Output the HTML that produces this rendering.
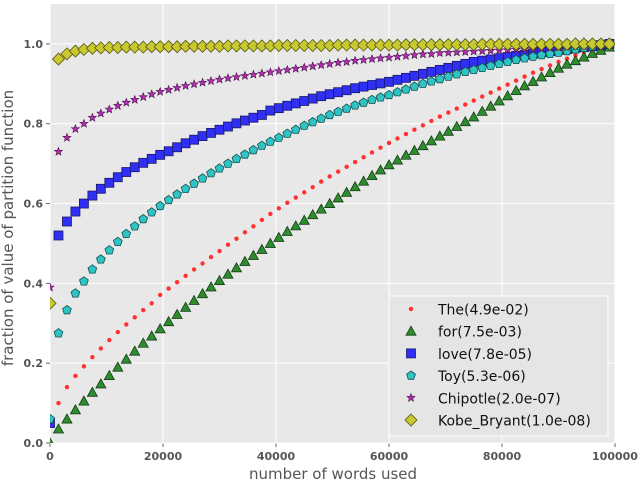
<!DOCTYPE html>
<html><head><meta charset="utf-8"><style>
html,body{margin:0;padding:0;background:#fff;}
svg{display:block;font-family:"DejaVu Sans","Liberation Sans",sans-serif;}
</style></head><body>
<svg id="chart" width="640" height="483" viewBox="0 0 640 483"></svg>
<script>
const xValues = [];
for (let i = 0; i < 67; i++) xValues.push(i * 1500);
const theValues = [0,.10,.14,.168,.192,.215,.237,.258,.278,.297,.315,.333,.35,.371,.387,.403,.419,.435,.45,.466,.481,.497,.512,.528,.543,.559,.574,.588,.602,.615,.628,.641,.655,.668,.68,.692,.704,.716,.728,.74,.752,.763,.774,.785,.796,.807,.818,.828,.838,.848,.858,.868,.878,.888,.898,.908,.918,.928,.937,.946,.955,.963,.971,.979,.986,.993,1.0];
const forValues = [0,.035,.06,.083,.105,.127,.148,.169,.19,.21,.23,.25,.268,.286,.304,.322,.34,.357,.374,.391,.407,.423,.439,.455,.47,.485,.50,.515,.53,.544,.558,.572,.586,.60,.614,.628,.642,.656,.67,.684,.697,.709,.721,.733,.745,.757,.769,.781,.793,.805,.817,.831,.844,.857,.87,.883,.895,.906,.917,.928,.939,.949,.958,.967,.976,.984,.992];
const loveValues = [.05,.52,.555,.58,.60,.62,.637,.652,.666,.679,.691,.702,.712,.722,.731,.741,.751,.76,.769,.777,.785,.793,.801,.808,.815,.822,.833,.839,.845,.851,.857,.863,.869,.874,.879,.884,.889,.893,.897,.901,.905,.91,.915,.92,.925,.93,.935,.94,.945,.95,.955,.958,.961,.964,.967,.97,.973,.976,.979,.982,.985,.987,.99,.992,.994,.997,1.0];
const toyValues = [.06,.275,.333,.375,.405,.435,.46,.483,.504,.524,.543,.561,.578,.594,.609,.623,.637,.65,.663,.676,.688,.70,.712,.723,.734,.745,.755,.765,.775,.785,.795,.804,.813,.822,.83,.838,.846,.853,.86,.866,.872,.879,.886,.893,.90,.906,.912,.918,.924,.93,.935,.94,.945,.95,.955,.96,.964,.968,.972,.975,.978,.982,.986,.99,.993,.997,1.0];
const chipotleValues = [.39,.73,.765,.787,.80,.815,.826,.836,.845,.853,.86,.867,.874,.88,.885,.89,.895,.899,.903,.907,.911,.914,.917,.92,.923,.926,.929,.932,.935,.938,.941,.944,.947,.95,.953,.955,.958,.96,.962,.964,.966,.968,.97,.972,.974,.975,.977,.978,.979,.98,.981,.982,.983,.984,.985,.986,.987,.988,.989,.99,.991,.992,.994,.995,.997,.998,1.0];
const kobeValues = [.35,.962,.975,.982,.986,.989,.99,.991,.991,.992,.992,.992,.993,.993,.993,.993,.994,.994,.994,.994,.994,.995,.995,.995,.995,.995,.995,.996,.996,.996,.996,.996,.996,.996,.997,.997,.997,.997,.997,.997,.997,.997,.998,.998,.998,.998,.998,.998,.998,.998,.998,.999,.999,.999,.999,.999,.999,.999,.999,.999,.999,.999,1.0,1.0,1.0,1.0,1.0];
const xTicks = [0,20000,40000,60000,80000,100000];
const yTicks = [0.0,0.2,0.4,0.6,0.8,1.0];
const legendLabels = ["The(4.9e-02)","for(7.5e-03)","love(7.8e-05)","Toy(5.3e-06)","Chipotle(2.0e-07)","Kobe_Bryant(1.0e-08)"];

const L=50,R=615,T=4,B=443;
const xs = v => L + v/100000*(R-L);
const ys = v => B - v/1.1*(B-T);
const NS="http://www.w3.org/2000/svg";
const svg=document.getElementById('chart');
function mk(tag,attrs,parent){const e=document.createElementNS(NS,tag);for(const k in attrs)e.setAttribute(k,attrs[k]);(parent||svg).appendChild(e);return e;}

const bg=mk('rect',{x:L,y:T,width:R-L,height:B-T,fill:'#e8e8e8'});


xTicks.forEach(t=>{
  const g=mk('line',{x1:xs(t),x2:xs(t),y1:T,y2:B,stroke:'#fff','stroke-width':1});
  
  
  mk('line',{x1:xs(t),x2:xs(t),y1:B,y2:B+4,stroke:'#666'});
  const tx=mk('text',{x:xs(t),y:B+17,'text-anchor':'middle','font-size':11,'font-weight':'bold',fill:'#555'});
  tx.textContent=t;
  
  
});
yTicks.forEach(t=>{
  const g=mk('line',{x1:L,x2:R,y1:ys(t),y2:ys(t),stroke:'#fff','stroke-width':1});
  
  
  mk('line',{x1:L-4,x2:L,y1:ys(t),y2:ys(t),stroke:'#666'});
  const tx=mk('text',{x:L-7,y:ys(t)+4,'text-anchor':'end','font-size':11,'font-weight':'bold',fill:'#555'});
  tx.textContent=t.toFixed(1);
  
  
});

function marker(kind,cx,cy,parent){
  let e;
  if(kind==='dot') e=mk('circle',{cx,cy,r:2.2,fill:'#ff3030'},parent);
  else if(kind==='tri') e=mk('polygon',{points:`${cx},${cy-5} ${cx-5},${cy+4} ${cx+5},${cy+4}`,fill:'#2e8b2e',stroke:'#143d14','stroke-width':0.8},parent);
  else if(kind==='sq') e=mk('rect',{x:cx-4.5,y:cy-4.5,width:9,height:9,fill:'#2f2ff5',stroke:'#1a1a66','stroke-width':0.8},parent);
  else if(kind==='pent'){let p=[];for(let k=0;k<5;k++){const a=-Math.PI/2+k*2*Math.PI/5;p.push((cx+4.6*Math.cos(a)).toFixed(1)+','+(cy+4.6*Math.sin(a)).toFixed(1));}
    e=mk('polygon',{points:p.join(' '),fill:'#2ec4c4',stroke:'#145050','stroke-width':0.8},parent);}
  else if(kind==='star'){let p=[];for(let k=0;k<10;k++){const a=-Math.PI/2+k*Math.PI/5,r=k%2?1.8:4.2;p.push((cx+r*Math.cos(a)).toFixed(1)+','+(cy+r*Math.sin(a)).toFixed(1));}
    e=mk('polygon',{points:p.join(' '),fill:'#b030b0',stroke:'#4a104a','stroke-width':0.6},parent);}
  else e=mk('polygon',{points:`${cx},${cy-6} ${cx+6},${cy} ${cx},${cy+6} ${cx-6},${cy}`,fill:'#c8c830',stroke:'#555510','stroke-width':0.8},parent);
  return e;
}
const series=[['the',theValues,'dot'],['for',forValues,'tri'],['love',loveValues,'sq'],['toy',toyValues,'pent'],['chipotle',chipotleValues,'star'],['kobe-bryant',kobeValues,'dia']];
const clip=mk('clipPath',{id:'pc'});mk('rect',{x:L,y:T,width:R-L,height:B-T},clip);
series.forEach(([name,vals,kind])=>{
  const g=mk('g',{'clip-path':'url(#pc)'});
  
  
  vals.forEach((v,i)=>{
    const m=marker(kind,xs(xValues[i]),ys(v),g);
    
    
  });
});

const lg=mk('g',{});


mk('rect',{x:389,y:296,width:219,height:140,fill:'#e5e5e5',stroke:'#fff','stroke-width':1},lg);
series.forEach(([name,vals,kind],i)=>{
  const y=309+i*22.2;
  const m=marker(kind,411,y,lg);
  
  
  const t=mk('text',{x:438,y:y+5.5,'font-size':14,fill:'#111'},lg);
  t.textContent=legendLabels[i];
  
  
});

const xt=mk('text',{x:333,y:479,'text-anchor':'middle','font-size':15,fill:'#555'});
xt.textContent='number of words used';


const yt=mk('text',{x:0,y:0,'text-anchor':'middle','font-size':15,fill:'#555',transform:'translate(13,228) rotate(-90)'});
yt.textContent='fraction of value of partition function';


</script>
</body></html>
